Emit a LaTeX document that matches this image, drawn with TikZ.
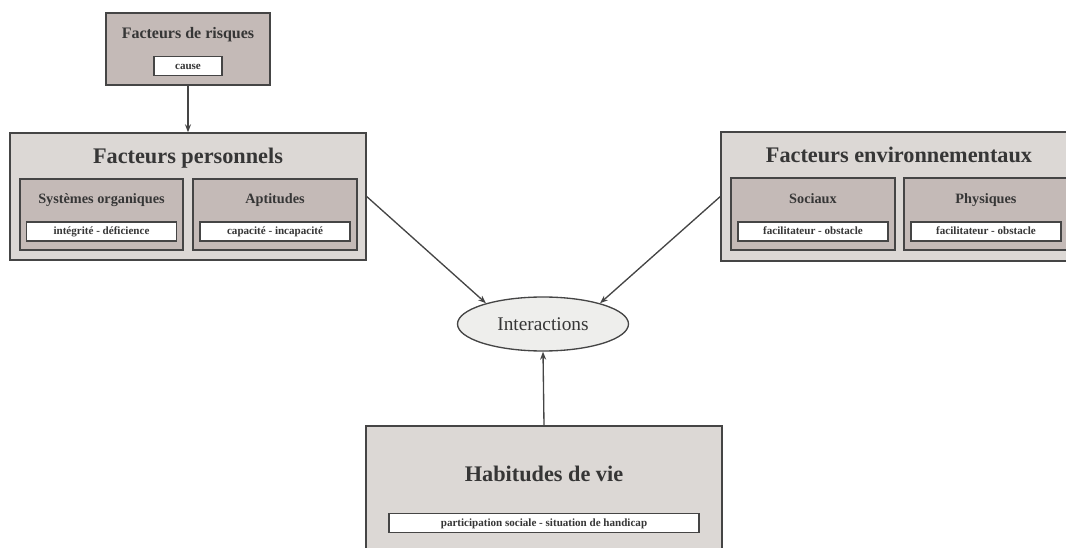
\documentclass[tikz,border=0pt]{standalone}
\usepackage{fontspec}
\setmainfont{Liberation Serif}
\usetikzlibrary{shapes.geometric,arrows.meta}

\definecolor{outerfill}{HTML}{DCD8D5}
\definecolor{innerfill}{HTML}{C4BAB7}
\definecolor{ellfill}{HTML}{EEEEEC}
\definecolor{edge}{HTML}{454545}
\definecolor{ink}{HTML}{363636}

\begin{document}
\begin{tikzpicture}[x=0.75pt,y=-0.75pt,
  >={Stealth[length=6pt,width=4.5pt]},
  outerbox/.style={draw=edge,fill=outerfill,line width=1pt,inner sep=0pt},
  innerbox/.style={draw=edge,fill=innerfill,line width=1pt,inner sep=0pt},
  tagbox/.style={draw=edge,fill=white,line width=0.9pt,inner sep=0pt,
    minimum height=19*0.75pt,text=ink,text height=0.7em,text depth=0.22em,
    font=\bfseries\fontsize{8.3}{10}\selectfont},
  titlebig/.style={text=ink,inner sep=0pt,text height=0.7em,text depth=0.22em,
    font=\bfseries\fontsize{16.7}{20}\selectfont},
  titlemid/.style={text=ink,inner sep=0pt,text height=0.7em,text depth=0.22em,
    font=\bfseries\fontsize{10.7}{13}\selectfont},
  link/.style={->,draw=edge,line width=1pt}]

%Define unit (one pixel of the target)
\def\u{0.75pt}

\useasboundingbox (0,0) rectangle (1066,548);
\clip (0,0) rectangle (1066,548);

% RISK FACTORS
\node[innerbox,minimum width=164*\u,minimum height=72*\u] (risk) at (188,49) {};
\node[text=ink,inner sep=0pt,text height=0.7em,text depth=0.22em,
  font=\bfseries\fontsize{12}{14}\selectfont] (riskt) at (188,35) {Facteurs de risques};
\node[tagbox,minimum width=68*\u] (cause) at (188,66) {cause};

% PERSONAL FACTORS
\node[outerbox,minimum width=356*\u,minimum height=127*\u] (pers) at (188,196.5) {};
\node[titlebig] (perst) at (188,160) {Facteurs personnels};
\node[innerbox,minimum width=163*\u,minimum height=71*\u] (sys) at (101.5,214.5) {};
\node[titlemid] (syst) at (101.5,200) {Systèmes organiques};
\node[tagbox,minimum width=150*\u] (systag) at (101.5,231.5) {intégrité - déficience};
\node[innerbox,minimum width=164*\u,minimum height=71*\u] (apt) at (275,214.5) {};
\node[titlemid] (aptt) at (275,200) {Aptitudes};
\node[tagbox,minimum width=150*\u] (apttag) at (275,231.5) {capacité - incapacité};

% ENVIRONMENTAL FACTORS
\node[outerbox,minimum width=356*\u,minimum height=129*\u] (env) at (899,196.5) {};
\node[titlebig] (envt) at (899,159) {Facteurs environnementaux};
\node[innerbox,minimum width=164*\u,minimum height=72*\u] (soc) at (813,214) {};
\node[titlemid] (soct) at (813,200) {Sociaux};
\node[tagbox,minimum width=150*\u] (soctag) at (813,231.5) {facilitateur - obstacle};
\node[innerbox,minimum width=164*\u,minimum height=72*\u] (phy) at (986,214) {};
\node[titlemid] (phyt) at (986,200) {Physiques};
\node[tagbox,minimum width=150*\u] (phytag) at (986,231.5) {facilitateur - obstacle};

% INTERACTIONS
\node[ellipse,draw=edge,fill=ellfill,line width=1pt,inner sep=0pt,
  minimum width=171*\u,minimum height=54*\u,text=ink,
  font=\fontsize{14.5}{17}\selectfont] (ia) at (543,324) {Interactions};

% LIFE HABITS
\node[outerbox,minimum width=356*\u,minimum height=180*\u] (hab) at (544,516) {};
\node[titlebig] (habt) at (544,478) {Habitudes de vie};
\node[tagbox,minimum width=310*\u] (habtag) at (544,523) {participation sociale - situation de handicap};

% Arrows
\draw[link] (risk.south) -- (pers.north);
\draw[link] (pers.east) -- (ia.160);
\draw[link] (env.west) -- (ia.20);
\draw[link] (hab.north) -- (ia.south);

\end{tikzpicture}
\end{document}
